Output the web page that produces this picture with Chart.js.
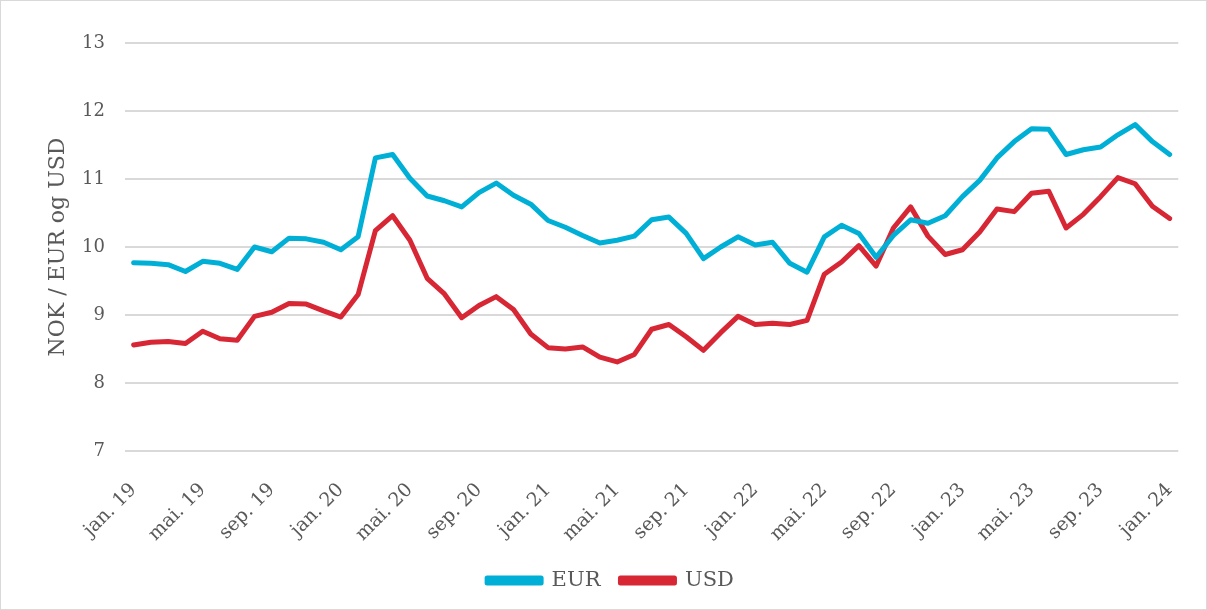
<!DOCTYPE html>
<html>
<head>
<meta charset="utf-8">
<script src="https://cdn.jsdelivr.net/npm/chart.js@4"></script>
<style>
    html, body { margin: 0; padding: 0; background: #fff; }
    #wrap { width: 1205px; height: 608px; border: 1px solid #d9d9d9; }
</style>
</head>
<body>
<div id="wrap"><canvas id="fx-chart" width="1205" height="608"></canvas></div>
<script>
const months = ['jan.', 'feb.', 'mar.', 'apr.', 'mai.', 'jun.', 'jul.', 'aug.', 'sep.', 'okt.', 'nov.', 'des.'];
const years = ['19', '20', '21', '22', '23', '24'];

const labels = [];
years.forEach(y => months.forEach(m => labels.push(m + ' ' + y)));
labels.length = 61;

const eur = [
    9.77, 9.76, 9.74, 9.64, 9.79, 9.76, 9.67, 10.00, 9.93, 10.13, 10.12, 10.07,
    9.96, 10.15, 11.31, 11.36, 11.01, 10.75, 10.68, 10.59, 10.80, 10.94, 10.76, 10.63,
    10.39, 10.29, 10.17, 10.06, 10.10, 10.16, 10.40, 10.44, 10.20, 9.83, 10.00, 10.15,
    10.03, 10.07, 9.76, 9.63, 10.15, 10.32, 10.20, 9.85, 10.17, 10.40, 10.35, 10.46,
    10.74, 10.98, 11.31, 11.55, 11.74, 11.73, 11.36, 11.43, 11.47, 11.65, 11.80, 11.55,
    11.36
];

const usd = [
    8.56, 8.60, 8.61, 8.58, 8.76, 8.65, 8.63, 8.98, 9.04, 9.17, 9.16, 9.06,
    8.97, 9.30, 10.24, 10.46, 10.10, 9.54, 9.31, 8.96, 9.14, 9.27, 9.08, 8.72,
    8.52, 8.50, 8.53, 8.38, 8.31, 8.42, 8.79, 8.86, 8.68, 8.48, 8.74, 8.98,
    8.86, 8.88, 8.86, 8.92, 9.60, 9.78, 10.02, 9.72, 10.28, 10.59, 10.16, 9.89,
    9.96, 10.22, 10.56, 10.52, 10.79, 10.82, 10.28, 10.48, 10.74, 11.02, 10.93, 10.60,
    10.42
];

const fontFam = "'DejaVu Serif', 'Liberation Serif', serif";
const grey = '#595959';

const config = {
    type: 'line',
    data: {
        labels: labels,
        datasets: [{
            label: 'EUR',
            data: eur,
            borderColor: '#00afd6',
            backgroundColor: '#00afd6',
            borderWidth: 5,
            pointRadius: 0,
            borderJoinStyle: 'round',
            borderCapStyle: 'round'
        },
        {
            label: 'USD',
            data: usd,
            borderColor: '#d72634',
            backgroundColor: '#d72634',
            borderWidth: 5,
            pointRadius: 0,
            borderJoinStyle: 'round',
            borderCapStyle: 'round'
        }]
    },
    options: {
        responsive: false,
        animation: false,
        layout: {
            padding: { left: 40, right: 26, top: 42, bottom: 8 }
        },
        plugins: {
            legend: {
                position: 'bottom',
                labels: {
                    boxWidth: 54,
                    boxHeight: 5,
                    padding: 20,
                    color: grey,
                    font: { family: fontFam, size: 21 }
                }
            },
            tooltip: { enabled: false }
        },
        scales: {
            x: {
                offset: true,
                grid: { display: false },
                border: { display: false },
                afterFit: s => { s.height = 99; },
                ticks: {
                    autoSkip: false,
                    maxRotation: 45,
                    minRotation: 45,
                    color: grey,
                    padding: 20,
                    font: { family: fontFam, size: 19 },
                    callback: function (value, index) {
                        return index % 4 === 0 ? this.getLabelForValue(value) : '';
                    }
                }
            },
            y: {
                min: 7,
                max: 13,
                afterFit: s => { s.width = 84; },
                ticks: {
                    stepSize: 1,
                    color: grey,
                    padding: 20,
                    font: { family: fontFam, size: 18 }
                },
                grid: { color: '#d9d9d9', lineWidth: 2, drawTicks: false },
                border: { display: false },
                title: {
                    display: true,
                    text: 'NOK / EUR og USD',
                    color: grey,
                    padding: { top: 4, bottom: 4 },
                    font: { family: fontFam, size: 22 }
                }
            }
        }
    }
};

new Chart(document.getElementById('fx-chart'), config);
</script>
</body>
</html>
